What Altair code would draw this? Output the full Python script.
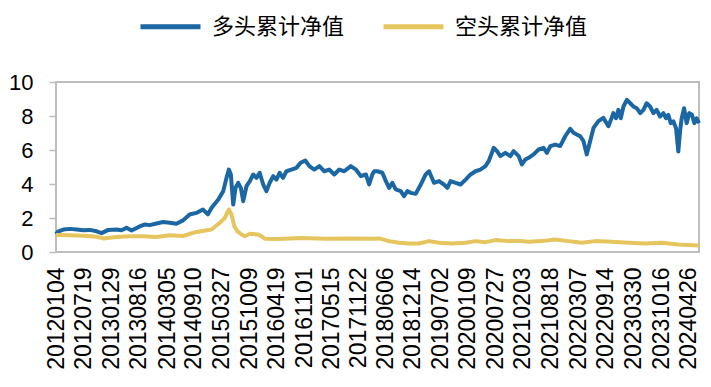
import altair as alt
import pandas as pd

label_dates = ["20120104", "20120719", "20130129", "20130816", "20140305", "20140910",
               "20150327", "20151009", "20160419", "20161101", "20170515", "20171122",
               "20180606", "20181214", "20190702", "20200109", "20200727", "20210203",
               "20210818", "20220307", "20220914", "20230330", "20231016", "20240426"]

series_names = ["多头累计净值", "空头累计净值"]
series_colors = ["#1B67A3", "#E6C55E"]

# 多头累计净值 (date, value)
long_points = [
    ("2012-01-04", 1.05), ("2012-01-18", 1.20), ("2012-02-25", 1.32), ("2012-04-12", 1.36),
    ("2012-05-30", 1.32), ("2012-07-16", 1.28), ("2012-09-01", 1.30), ("2012-10-19", 1.22),
    ("2012-11-23", 1.11), ("2013-01-09", 1.30), ("2013-03-09", 1.32), ("2013-04-14", 1.28),
    ("2013-05-19", 1.42), ("2013-06-24", 1.26), ("2013-08-10", 1.46), ("2013-09-26", 1.62),
    ("2013-10-31", 1.58), ("2013-12-18", 1.68), ("2014-02-03", 1.76), ("2014-03-22", 1.72),
    ("2014-05-09", 1.66), ("2014-06-25", 1.86), ("2014-08-11", 2.21), ("2014-09-28", 2.30),
    ("2014-11-13", 2.50), ("2014-12-19", 2.21), ("2014-12-31", 2.40), ("2015-01-14", 2.60),
    ("2015-03-03", 3.09), ("2015-04-07", 3.58), ("2015-04-30", 4.36), ("2015-05-17", 4.85),
    ("2015-05-31", 4.56), ("2015-06-17", 2.79), ("2015-07-03", 3.77), ("2015-07-22", 4.07),
    ("2015-08-10", 3.77), ("2015-08-27", 2.99), ("2015-09-19", 3.87), ("2015-10-13", 4.17),
    ("2015-11-06", 4.56), ("2015-11-29", 4.36), ("2015-12-22", 4.66), ("2016-01-16", 3.97),
    ("2016-02-08", 3.58), ("2016-03-02", 4.07), ("2016-03-27", 4.46), ("2016-04-19", 4.26),
    ("2016-05-12", 4.66), ("2016-06-05", 4.36), ("2016-06-29", 4.75), ("2016-08-03", 4.85),
    ("2016-09-08", 4.95), ("2016-10-08", 5.25), ("2016-11-10", 5.38), ("2016-12-09", 5.05),
    ("2017-01-13", 4.85), ("2017-02-18", 5.05), ("2017-03-25", 4.75), ("2017-04-30", 4.85),
    ("2017-06-04", 4.56), ("2017-07-10", 4.85), ("2017-08-14", 4.75), ("2017-09-30", 5.05),
    ("2017-11-05", 4.85), ("2017-12-10", 4.46), ("2018-01-15", 4.56), ("2018-02-07", 3.97),
    ("2018-03-02", 4.56), ("2018-03-15", 4.75), ("2018-04-07", 4.75), ("2018-05-12", 4.66),
    ("2018-06-06", 4.17), ("2018-06-29", 3.77), ("2018-07-22", 4.07), ("2018-08-15", 3.68),
    ("2018-09-20", 3.58), ("2018-10-13", 3.28), ("2018-11-06", 3.58), ("2018-11-30", 3.48),
    ("2019-01-04", 3.42), ("2019-02-09", 3.97), ("2019-03-16", 4.56), ("2019-04-09", 4.75),
    ("2019-05-14", 4.07), ("2019-06-19", 4.17), ("2019-07-24", 3.97), ("2019-08-17", 3.77),
    ("2019-09-09", 4.17), ("2019-10-15", 4.07), ("2019-11-19", 3.97), ("2019-12-25", 4.26),
    ("2020-01-29", 4.56), ("2020-03-04", 4.75), ("2020-04-08", 4.85), ("2020-05-14", 5.05),
    ("2020-06-06", 5.34), ("2020-07-12", 6.13), ("2020-08-04", 5.93), ("2020-08-28", 5.64),
    ("2020-10-02", 5.83), ("2020-11-07", 5.64), ("2020-11-30", 5.93), ("2021-01-05", 5.64),
    ("2021-01-28", 5.15), ("2021-02-21", 5.44), ("2021-03-17", 5.54), ("2021-04-21", 5.74),
    ("2021-05-27", 6.03), ("2021-07-01", 6.13), ("2021-07-25", 5.83), ("2021-08-18", 6.23),
    ("2021-09-22", 6.32), ("2021-10-27", 6.23), ("2021-12-02", 6.81), ("2022-01-06", 7.25),
    ("2022-01-30", 7.01), ("2022-02-22", 6.91), ("2022-03-18", 6.81), ("2022-04-11", 6.52),
    ("2022-05-04", 5.74), ("2022-05-28", 6.52), ("2022-06-21", 7.30), ("2022-07-26", 7.70),
    ("2022-08-30", 7.89), ("2022-10-05", 7.40), ("2022-10-28", 7.89), ("2022-11-09", 8.17),
    ("2022-11-28", 7.87), ("2022-12-15", 8.36), ("2023-01-01", 7.87), ("2023-01-20", 8.56),
    ("2023-02-13", 8.95), ("2023-03-09", 8.75), ("2023-04-01", 8.56), ("2023-04-24", 8.46),
    ("2023-05-19", 8.17), ("2023-06-11", 8.36), ("2023-07-04", 8.75), ("2023-07-28", 8.56),
    ("2023-08-21", 8.17), ("2023-09-13", 8.36), ("2023-10-07", 7.97), ("2023-10-31", 8.17),
    ("2023-11-19", 7.87), ("2023-12-05", 8.07), ("2023-12-22", 7.58), ("2024-01-10", 7.68),
    ("2024-01-29", 7.28), ("2024-02-14", 5.91), ("2024-02-26", 7.09), ("2024-03-09", 7.87),
    ("2024-03-26", 8.46), ("2024-04-13", 7.58), ("2024-05-02", 8.17), ("2024-05-21", 8.07),
    ("2024-06-07", 7.58), ("2024-06-23", 7.87), ("2024-07-10", 7.58),
]

# 空头累计净值 (date, value)
short_points = [
    ("2012-01-04", 1.00), ("2012-04-12", 0.99), ("2012-07-16", 0.96), ("2012-10-19", 0.90),
    ("2012-12-05", 0.80), ("2013-03-09", 0.88), ("2013-06-12", 0.92), ("2013-09-14", 0.92),
    ("2013-12-18", 0.88), ("2014-03-22", 0.99), ("2014-06-25", 0.94), ("2014-09-28", 1.18),
    ("2015-01-14", 1.32), ("2015-03-14", 1.72), ("2015-04-18", 2.01), ("2015-05-17", 2.50),
    ("2015-06-05", 2.21), ("2015-06-24", 1.52), ("2015-07-17", 1.22), ("2015-08-15", 1.03),
    ("2015-09-07", 0.93), ("2015-10-13", 1.07), ("2015-12-11", 1.03), ("2016-01-04", 0.93),
    ("2016-01-27", 0.78), ("2016-05-01", 0.76), ("2016-10-08", 0.83), ("2017-04-06", 0.78),
    ("2017-09-18", 0.80), ("2018-03-15", 0.78), ("2018-04-19", 0.80), ("2018-06-29", 0.64),
    ("2018-09-08", 0.54), ("2018-11-18", 0.50), ("2019-01-28", 0.50), ("2019-04-09", 0.64),
    ("2019-06-19", 0.54), ("2019-09-21", 0.50), ("2019-12-25", 0.54), ("2020-03-04", 0.64),
    ("2020-05-14", 0.58), ("2020-07-24", 0.70), ("2020-10-26", 0.64), ("2021-01-28", 0.64),
    ("2021-03-17", 0.60), ("2021-06-19", 0.64), ("2021-09-22", 0.74), ("2021-12-25", 0.64),
    ("2022-03-30", 0.54), ("2022-07-02", 0.64), ("2022-10-28", 0.60), ("2023-02-25", 0.54),
    ("2023-06-23", 0.50), ("2023-10-19", 0.54), ("2024-02-14", 0.44), ("2024-07-10", 0.38),
]

rows = []
for name, points in zip(series_names, [long_points, short_points]):
    for d, v in points:
        rows.append({"date": d.replace("-", "/"), "value": v, "series": name})
df = pd.DataFrame(rows)

tick_values = [alt.DateTime(year=int(s[:4]), month=int(s[4:6]), date=int(s[6:]))
               for s in label_dates]

chart = alt.Chart(df).mark_line(strokeWidth=4, strokeJoin="round").encode(
    x=alt.X("date:T",
            scale=alt.Scale(nice=False),
            axis=alt.Axis(values=tick_values, format="%Y%m%d", labelAngle=-90,
                          labelFont="Liberation Sans", labelFontSize=23,
                          labelColor="#000000", labelPadding=15, ticks=False,
                          domain=False, grid=False, labelOverlap=False,
                          labelFlush=False, title=None)),
    y=alt.Y("value:Q",
            scale=alt.Scale(domain=[0, 10], nice=False),
            axis=alt.Axis(values=[0, 2, 4, 6, 8, 10], tickSize=7, tickColor="#BDBDBD",
                          tickWidth=1.5, labelFont="Liberation Sans", labelFontSize=22,
                          labelColor="#000000", labelPadding=16, domain=False,
                          grid=False, title=None)),
    color=alt.Color("series:N",
                    scale=alt.Scale(domain=series_names, range=series_colors),
                    legend=alt.Legend(title=None, orient="none", legendX=82, legendY=-88,
                                      direction="horizontal", symbolType="stroke",
                                      symbolSize=3600, symbolStrokeWidth=5,
                                      labelFont="Noto Sans CJK SC", labelFontSize=22,
                                      labelColor="#000000", labelOffset=9,
                                      columnPadding=28)),
    order=alt.Order("series:N"),
).properties(
    width=643, height=170,
    padding={"left": 48, "top": 74, "right": 4, "bottom": 125},
    autosize=alt.AutoSizeParams(type="none"),
).configure_view(stroke="#BDBDBD", strokeWidth=2)

chart.save("out.html", embed_options={"renderer": "svg", "actions": False})
